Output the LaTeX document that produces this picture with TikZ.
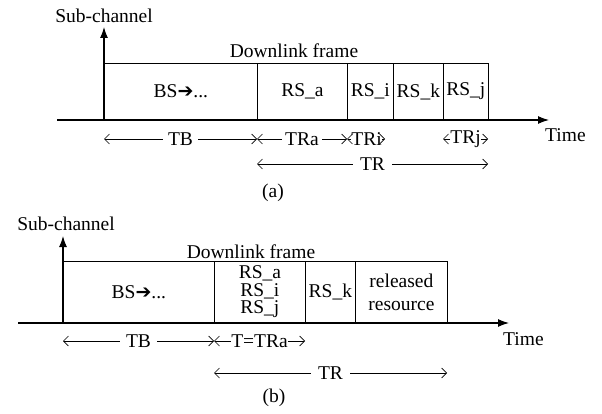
\documentclass[tikz,border=0pt]{standalone}
\usepackage{fontspec}
\setmainfont{Liberation Serif}
\newfontfamily\symfont{DejaVu Sans}
\usetikzlibrary{arrows.meta}
\tikzset{
  axis/.style={line width=1.1pt,-{Latex[length=11pt,width=8pt]}},
  cell/.style={draw,line width=0.8pt,inner sep=0pt,font=\fontsize{19.5}{19.5}\selectfont},
  dim/.style={line width=0.7pt,{Straight Barb[length=5pt,width=10pt]}-{Straight Barb[length=5pt,width=10pt]}},
  half/.style={line width=0.7pt,-{Straight Barb[length=5pt,width=10pt]}},
  lbl/.style={fill=white,inner xsep=3pt,inner ysep=1pt,font=\fontsize{19.5}{19.5}\selectfont},
  tight/.style={lbl,inner xsep=0.5pt},
  txt/.style={inner sep=0pt,font=\fontsize{19.5}{19.5}\selectfont},
}
\newcommand{\bsarrow}{BS{\symfont\fontsize{19}{19}\selectfont ➔}...}
\begin{document}
\begin{tikzpicture}[x=1pt,y=-1pt]
\useasboundingbox (0,0) rectangle (602,414);
% ---------------- (a) ----------------
\coordinate (aO) at (104,120);
\coordinate (aY) at (104,27);
\coordinate (aXs) at (57,120);
\coordinate (aXe) at (549,120);
\node[txt] (asub) at (104,16) {Sub-channel};
\node[txt] (adl) at (294,51) {Downlink frame};
\node[cell,anchor=south west,minimum width=153pt,minimum height=56pt] (aBS) at (104,120) {\bsarrow};
\node[cell,anchor=south west,minimum width=90pt,minimum height=56pt] (aRa) at (257,120) {RS\_a};
\node[cell,anchor=south west,minimum width=46pt,minimum height=56pt] (aRi) at (347,120) {RS\_i};
\node[cell,anchor=south west,minimum width=50pt,minimum height=56pt] (aRk) at (393,120) {RS\_k};
\node[cell,anchor=south west,minimum width=45pt,minimum height=56pt] (aRj) at (443,120) {RS\_j};
\draw[axis] (aO) -- (aY);
\draw[axis] (aXs) -- (aXe);
\node[txt,anchor=west] (atime) at (545,135) {Time};
\coordinate (a0) at (104,139);
\coordinate (a1) at (257,139);
\coordinate (a2) at (347,139);
\coordinate (a3) at (385,139);
\coordinate (a4) at (443,139);
\coordinate (a5) at (488,139);
\coordinate (t0) at (257,164);
\coordinate (t1) at (488,164);
\draw[dim] (a0) -- (a1) node[midway,lbl,inner xsep=5pt] {TB};
\draw[dim] (a1) -- (a2) node[midway,lbl] {TRa};
\node[txt] (lTRi) at (366.5,139) {TRi};
\draw[half] (lTRi.west) -- (a2);
\draw[half] (lTRi.east) -- (a3);
\node[txt] (lTRj) at (465.5,139) {TRj};
\draw[half] (lTRj.west) -- (a4);
\draw[half] (lTRj.east) -- (a5);
\draw[dim] (t0) -- (t1) node[midway,lbl,inner xsep=7pt] {TR};
\node[txt] (acap) at (273,193) {(a)};
% ---------------- (b) ----------------
\coordinate (bO) at (63,323);
\coordinate (bY) at (63,236);
\coordinate (bXs) at (18,323);
\coordinate (bXe) at (509,323);
\node[txt] (bsub) at (66,224) {Sub-channel};
\node[txt] (bdl) at (251,252) {Downlink frame};
\node[cell,anchor=south west,minimum width=151pt,minimum height=61pt] (bBS) at (63,323) {\bsarrow};
\node[cell,anchor=south west,minimum width=91pt,minimum height=61pt,align=center,font=\fontsize{19.5}{17.5}\selectfont] (bRaij) at (214,323) {RS\_a\\RS\_i\\RS\_j};
\node[cell,anchor=south west,minimum width=50pt,minimum height=61pt] (bRk) at (305,323) {RS\_k};
\node[cell,anchor=south west,minimum width=92pt,minimum height=61pt,align=center,font=\fontsize{19.5}{23}\selectfont] (brel) at (355,323) {released\\resource};
\draw[axis] (bO) -- (bY);
\draw[axis] (bXs) -- (bXe);
\node[txt,anchor=west] (btime) at (503,339) {Time};
\coordinate (b0) at (63,341);
\coordinate (b1) at (214,341);
\coordinate (b2) at (305,341);
\coordinate (u0) at (214,373);
\coordinate (u1) at (447,373);
\draw[dim] (b0) -- (b1) node[midway,lbl,inner xsep=6pt] {TB};
\draw[dim] (b1) -- (b2) node[midway,tight] {T=TRa};
\draw[dim] (u0) -- (u1) node[midway,lbl,inner xsep=7pt] {TR};
\node[txt] (bcap) at (274,398) {(b)};
\end{tikzpicture}
\end{document}
